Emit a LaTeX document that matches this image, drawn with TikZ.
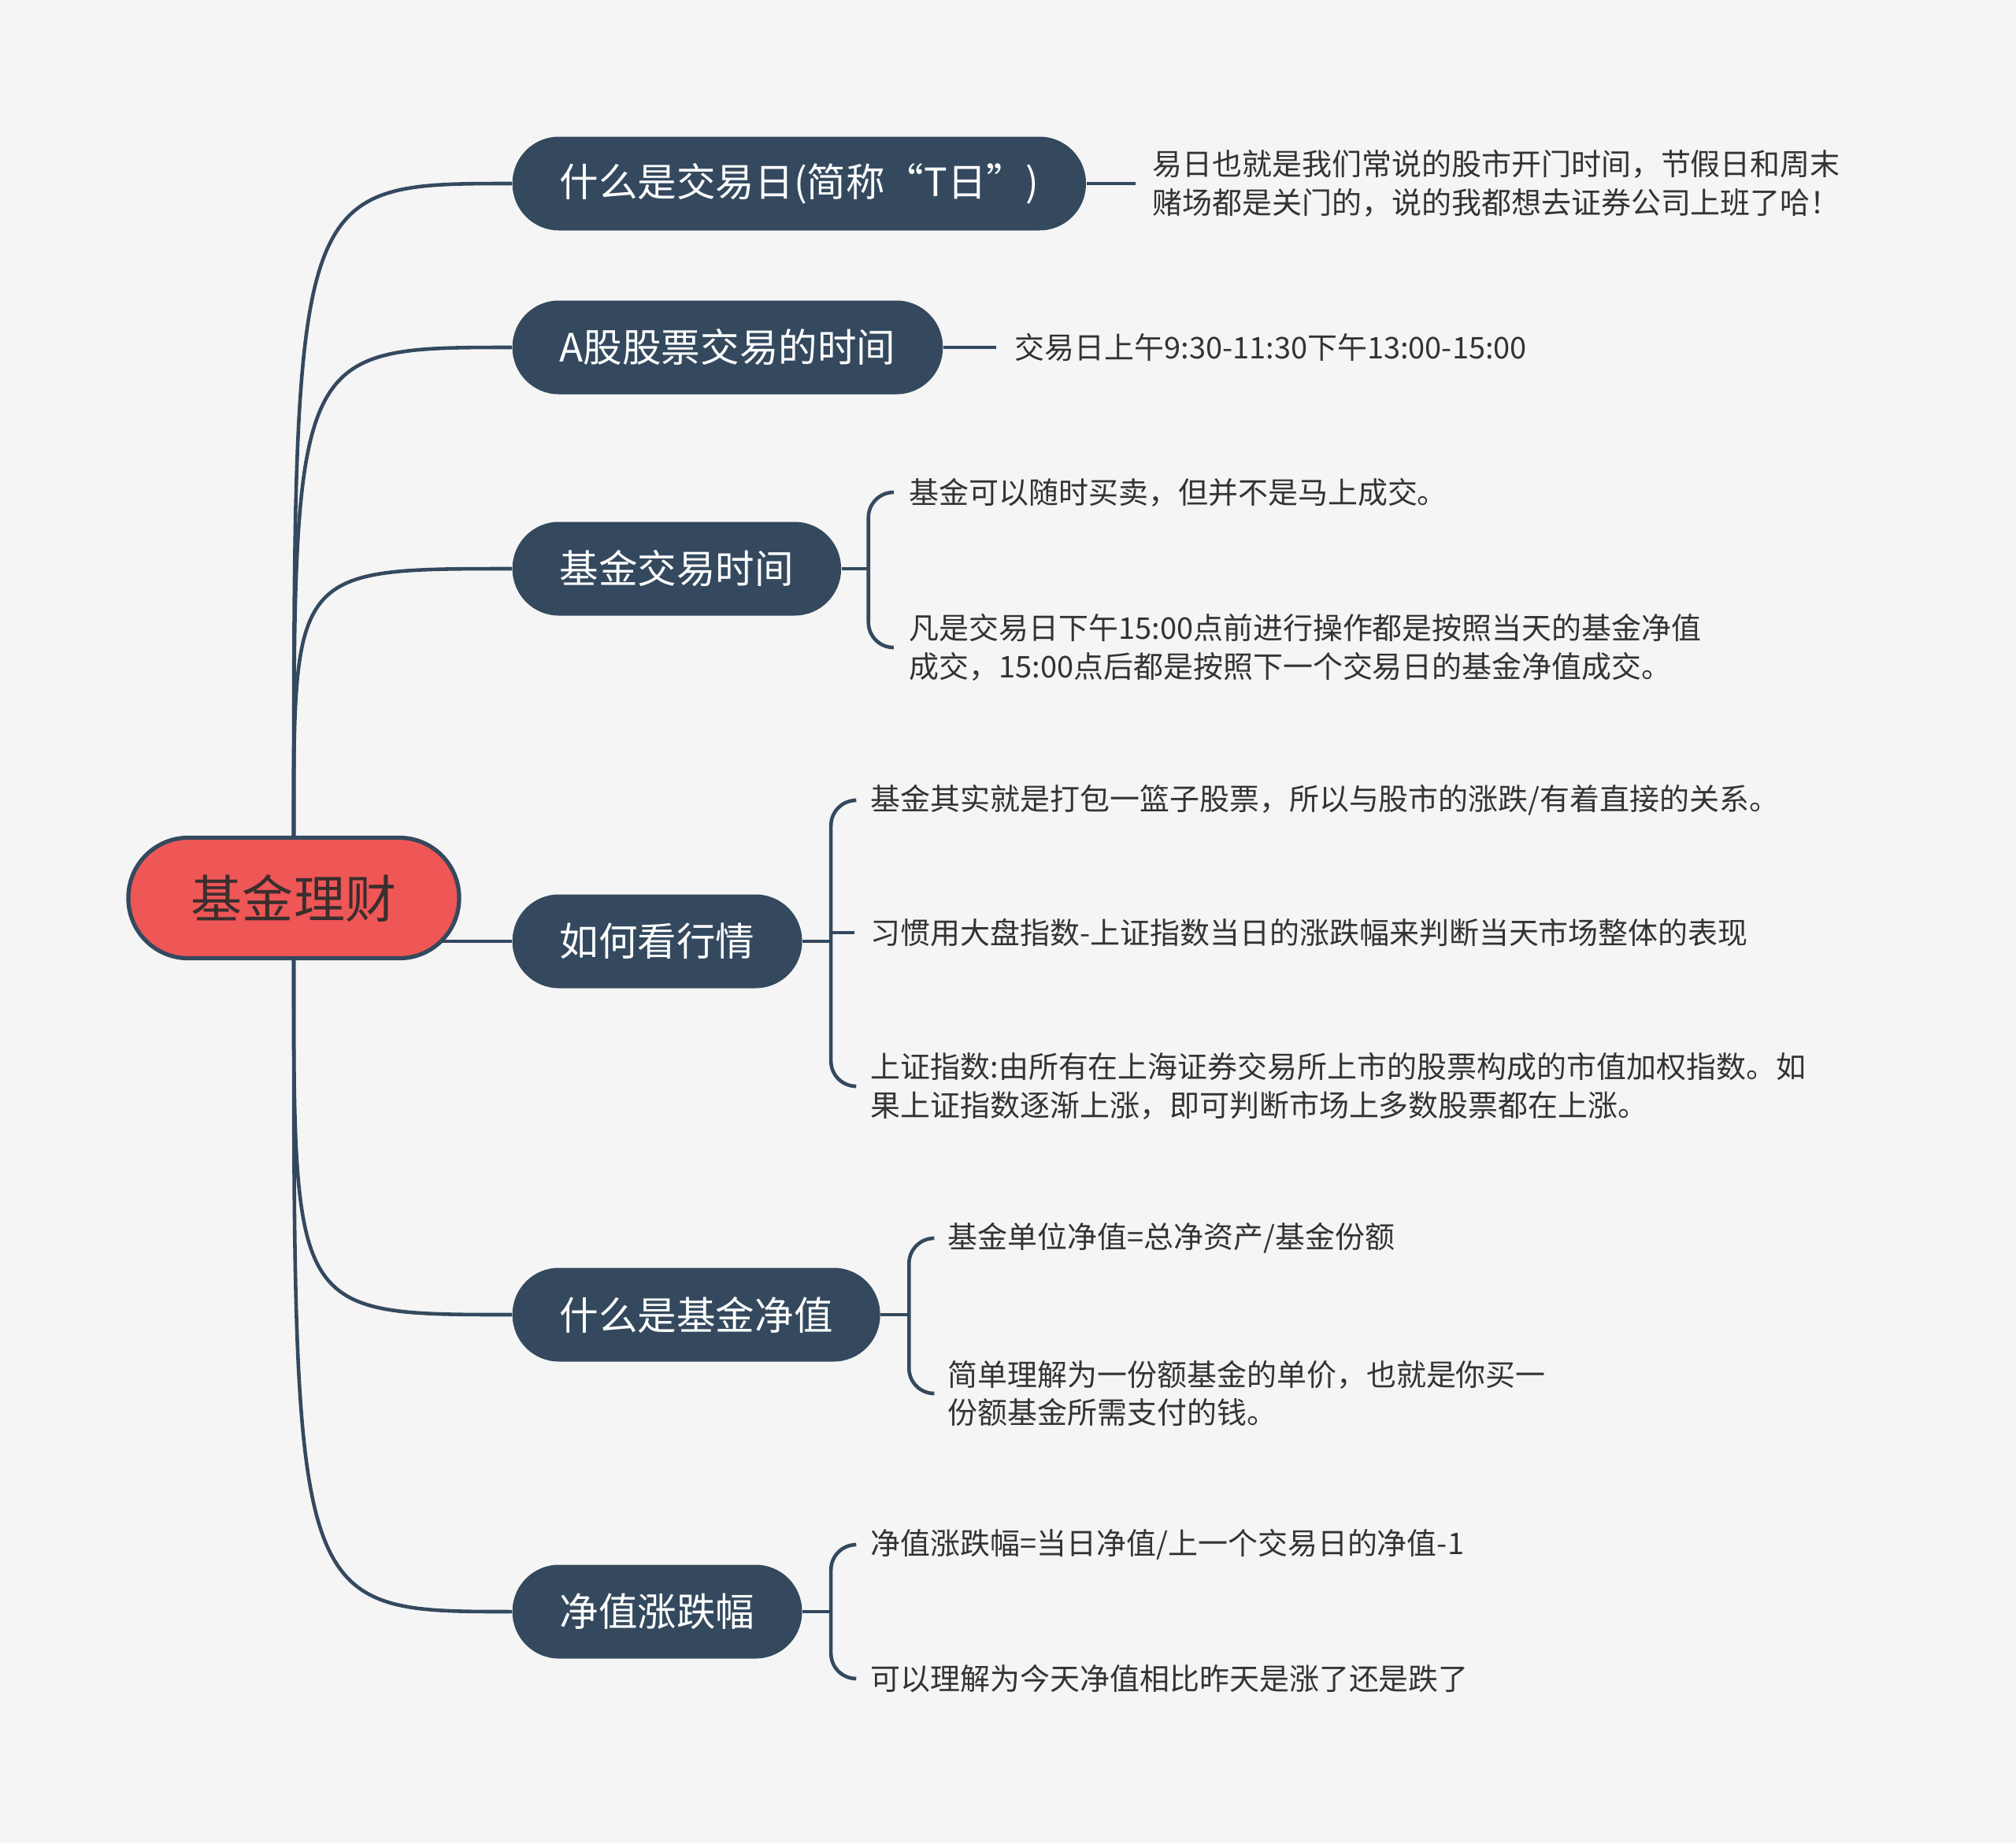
\documentclass[tikz,border=0pt]{standalone}
\usepackage{fontspec}
\setmainfont{Noto Sans CJK SC}
\usepackage{xcolor}
\usepackage{tikz}
\usetikzlibrary{positioning,backgrounds,calc}
\definecolor{pagebg}{HTML}{F5F5F5}
\definecolor{rootred}{HTML}{EF5656}
\definecolor{slatedark}{HTML}{34495E}
\definecolor{leaftext}{HTML}{333333}
\definecolor{roottext}{HTML}{3A2E2E}
\tikzset{
  rootbox/.style={
    rounded corners=0.76cm,
    draw=slatedark,
    fill=rootred,
    line width=1.5pt,
    text=roottext,
    font=\fontsize{18.5}{22}\selectfont,
    minimum width=4.2cm,
    minimum height=1.53cm
  },
  topicbox/.style={
    rounded corners=0.59cm,
    fill=slatedark,
    text=white,
    font=\fontsize{14.1}{17}\selectfont,
    minimum height=1.19cm,
    inner xsep=0.6cm,
    anchor=west
  },
  leaftext/.style={
    text=leaftext,
    font=\fontsize{10.8}{13.9}\selectfont,
    align=left,
    inner sep=0pt,
    anchor=west
  },
  link/.style={draw=slatedark, line width=1.3pt},
  bracket/.style={link, rounded corners=0.32cm}
}

\begin{document}
\begin{tikzpicture}[x=1cm,y=1cm]
  \useasboundingbox (0,0) rectangle (25.6,-23.4);

  % central topic
  \node[rootbox] (root) at (3.73,-11.40) {基金理财};

  % main topics
  \node[topicbox] (t1) at (6.50,-2.33) {什么是交易日(简称“T日”)};
  \node[topicbox] (t2) at (6.50,-4.41) {A股股票交易的时间};
  \node[topicbox] (t3) at (6.50,-7.22) {基金交易时间};
  \node[topicbox] (t4) at (6.50,-11.95) {如何看行情};
  \node[topicbox] (t5) at (6.50,-16.69) {什么是基金净值};
  \node[topicbox] (t6) at (6.50,-20.46) {净值涨跌幅};

  % details
  \node[leaftext] (d1) at (14.63,-2.33) {易日也就是我们常说的股市开门时间，节假日和周末\\赌场都是关门的，说的我都想去证券公司上班了哈！};
  \node[leaftext] (d2) at (12.88,-4.41) {交易日上午9:30-11:30下午13:00-15:00};

  \node[leaftext] (d3a) at (11.54,-6.25) {基金可以随时买卖，但并不是马上成交。};
  \node[leaftext] (d3b) at (11.54,-8.22) {凡是交易日下午15:00点前进行操作都是按照当天的基金净值\\成交，15:00点后都是按照下一个交易日的基金净值成交。};

  \node[leaftext] (d4a) at (11.05,-10.16) {基金其实就是打包一篮子股票，所以与股市的涨跌/有着直接的关系。};
  \node[leaftext] (d4b) at (11.05,-11.84) {习惯用大盘指数-上证指数当日的涨跌幅来判断当天市场整体的表现};
  \node[leaftext] (d4c) at (11.05,-13.79) {上证指数:由所有在上海证券交易所上市的股票构成的市值加权指数。如\\果上证指数逐渐上涨，即可判断市场上多数股票都在上涨。};

  \node[leaftext] (d5a) at (12.03,-15.72) {基金单位净值=总净资产/基金份额};
  \node[leaftext] (d5b) at (12.03,-17.69) {简单理解为一份额基金的单价，也就是你买一\\份额基金所需支付的钱。};

  \node[leaftext] (d6a) at (11.05,-19.61) {净值涨跌幅=当日净值/上一个交易日的净值-1};
  \node[leaftext] (d6b) at (11.05,-21.31) {可以理解为今天净值相比昨天是涨了还是跌了};

  \begin{scope}[on background layer]
    \fill[pagebg] (0,0) rectangle (25.6,-23.4);

    % root to main topics
    \draw[link] (root.north) .. controls (root.north |- t1.west) .. (t1.west);
    \draw[link] (root.north) .. controls (root.north |- t2.west) .. (t2.west);
    \draw[link] (root.north) .. controls (root.north |- t3.west) .. (t3.west);
    \draw[link] (root.center |- t4.west) -- (t4.west);
    \draw[link] (root.south) .. controls (root.south |- t5.west) .. (t5.west);
    \draw[link] (root.south) .. controls (root.south |- t6.west) .. (t6.west);

    % main topics to details
    \draw[link] (t1.east) -- ([xshift=-0.21cm]d1.west);
    \draw[link] (t2.east) -- ([xshift=-0.23cm]d2.west);

    \coordinate (b3) at ([xshift=0.34cm]t3.east);
    \draw[link] (t3.east) -- (b3);
    \draw[bracket] ([xshift=-0.2cm]d3a.west) -| (b3) |- ([xshift=-0.2cm]d3b.west);

    \coordinate (b4) at ([xshift=0.36cm]t4.east);
    \draw[link] (t4.east) -- (b4);
    \draw[bracket] ([xshift=-0.2cm]d4a.west) -| (b4) |- ([xshift=-0.2cm]d4c.west);
    \draw[link] (b4 |- d4b.west) -- ([xshift=-0.2cm]d4b.west);

    \coordinate (b5) at ([xshift=0.36cm]t5.east);
    \draw[link] (t5.east) -- (b5);
    \draw[bracket] ([xshift=-0.2cm]d5a.west) -| (b5) |- ([xshift=-0.2cm]d5b.west);

    \coordinate (b6) at ([xshift=0.36cm]t6.east);
    \draw[link] (t6.east) -- (b6);
    \draw[bracket] ([xshift=-0.2cm]d6a.west) -| (b6) |- ([xshift=-0.2cm]d6b.west);
  \end{scope}
\end{tikzpicture}
\end{document}
